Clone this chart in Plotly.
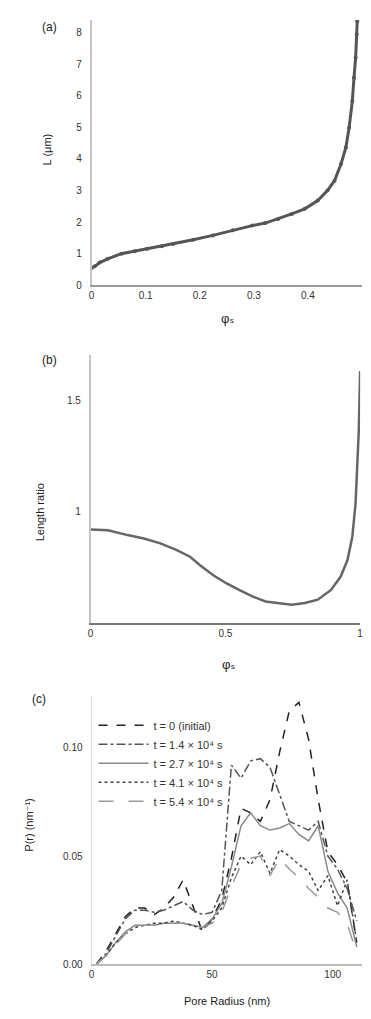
import plotly.graph_objects as go

# ---- panel (a): length vs solid fraction ----
phi_a = [0.0, 0.006, 0.015, 0.03, 0.055, 0.08, 0.103, 0.13, 0.151, 0.188, 0.224,
         0.261, 0.297, 0.321, 0.345, 0.37, 0.394, 0.418, 0.436, 0.449, 0.461,
         0.470, 0.476, 0.482, 0.485, 0.488, 0.490, 0.491]
L_a = [0.55, 0.6, 0.72, 0.84, 1.0, 1.08, 1.16, 1.24, 1.31, 1.44, 1.58,
       1.74, 1.89, 1.97, 2.10, 2.26, 2.42, 2.68, 3.0, 3.31, 3.84,
       4.36, 4.99, 5.84, 6.57, 7.2, 7.94, 8.36]

# ---- panel (b): ratio vs solid fraction ----
phi_b = [0.0, 0.065, 0.137, 0.198, 0.259, 0.32, 0.369, 0.405, 0.454, 0.503,
         0.551, 0.6, 0.649, 0.697, 0.746, 0.795, 0.843, 0.892, 0.928, 0.953,
         0.971, 0.983, 0.995, 1.0]
R_b = [0.921, 0.918, 0.896, 0.881, 0.859, 0.829, 0.799, 0.762, 0.717, 0.680,
       0.650, 0.621, 0.598, 0.591, 0.583, 0.591, 0.606, 0.650, 0.710, 0.784,
       0.888, 1.037, 1.365, 1.633]

# ---- panel (c): pore radius distributions ----
radius = [2, 6, 10, 14, 18, 22, 26, 30, 34, 38, 42, 46, 50, 54, 58, 62, 66, 70,
          74, 78, 82, 86, 90, 94, 98, 102, 106, 110]
p1 = [0.000, 0.006, 0.014, 0.022, 0.026, 0.026, 0.023, 0.026, 0.031, 0.039, 0.027,
      0.015, 0.021, 0.030, 0.049, 0.072, 0.070, 0.066, 0.076, 0.098, 0.117, 0.121,
      0.104, 0.076, 0.052, 0.046, 0.038, 0.010]
p2 = [0.000, 0.005, 0.013, 0.021, 0.025, 0.025, 0.024, 0.025, 0.027, 0.029, 0.025,
      0.023, 0.024, 0.034, 0.092, 0.086, 0.094, 0.095, 0.091, 0.079, 0.066, 0.064,
      0.062, 0.066, 0.050, 0.044, 0.035, 0.020]
p3 = [0.000, 0.004, 0.010, 0.015, 0.018, 0.018, 0.018, 0.019, 0.019, 0.019, 0.018,
      0.017, 0.021, 0.028, 0.045, 0.064, 0.070, 0.064, 0.062, 0.063, 0.065, 0.060,
      0.057, 0.064, 0.043, 0.033, 0.026, 0.008]
p4 = [0.000, 0.004, 0.010, 0.014, 0.017, 0.018, 0.019, 0.019, 0.020, 0.019, 0.018,
      0.016, 0.020, 0.026, 0.040, 0.050, 0.046, 0.052, 0.042, 0.053, 0.050, 0.046,
      0.043, 0.034, 0.041, 0.027, 0.039, 0.010]
p5 = [0.000, 0.004, 0.009, 0.014, 0.017, 0.018, 0.018, 0.019, 0.019, 0.019, 0.018,
      0.017, 0.019, 0.024, 0.036, 0.046, 0.049, 0.050, 0.041, 0.049, 0.044, 0.040,
      0.035, 0.031, 0.026, 0.024, 0.019, 0.005]
series_c = [p1, p2, p3, p4, p5]
names_c = ["t = 0 (initial)", "t = 1.4 × 10⁴ s", "t = 2.7 × 10⁴ s",
           "t = 4.1 × 10⁴ s", "t = 5.4 × 10⁴ s"]
colors_c = ["#222222", "#555555", "#8a8a8a", "#444444", "#9a9a9a"]
dashes_c = ["dash", "dashdot", "solid", "dot", "longdash"]

W, H = 371, 1019
FONT = "Liberation Sans, DejaVu Sans, Arial, sans-serif"
TXT = "#333333"

fig = go.Figure()

fig.add_trace(go.Scatter(x=phi_a, y=L_a, mode="lines+markers",
                         line=dict(color="#555555", width=3),
                         marker=dict(color="#555555", size=4),
                         xaxis="x", yaxis="y", showlegend=False))

fig.add_trace(go.Scatter(x=phi_b, y=R_b, mode="lines",
                         line=dict(color="#666666", width=2.5),
                         xaxis="x2", yaxis="y2", showlegend=False))

for vals, nm, col, ds in zip(series_c, names_c, colors_c, dashes_c):
    fig.add_trace(go.Scatter(x=radius, y=vals, mode="lines", name=nm,
                             line=dict(color=col, width=1.5, dash=ds),
                             xaxis="x3", yaxis="y3"))


def px_x(p):
    return p / W


def px_y(p):
    return 1 - p / H


xdom = [px_x(90), px_x(365)]
axis_common = dict(showgrid=False, zeroline=False, ticks="", showline=True,
                   tickfont=dict(size=10, color=TXT, family=FONT))

fig.update_layout(
    width=W, height=H,
    margin=dict(l=0, r=0, t=0, b=0),
    paper_bgcolor="white", plot_bgcolor="white",
    font=dict(family=FONT, color=TXT, size=10),
    xaxis=dict(domain=xdom, range=[0, 0.5], anchor="y",
               tickvals=[0, 0.1, 0.2, 0.3, 0.4], ticktext=["0", "0.1", "0.2", "0.3", "0.4"],
               linecolor="#999999", linewidth=2, **axis_common),
    yaxis=dict(domain=[px_y(287), px_y(20)], range=[0, 8.4], anchor="x",
               dtick=1, linecolor="#c4c4c4", linewidth=1.5, ticklabelstandoff=6,
               **axis_common),
    xaxis2=dict(domain=[px_x(89), px_x(363)], range=[0, 1], anchor="y2",
                tickvals=[0, 0.5, 1], linecolor="#777777", linewidth=2, **axis_common),
    yaxis2=dict(domain=[px_y(627), px_y(357)], range=[0.5, 1.705], anchor="x2",
                tickvals=[1, 1.5], linecolor="#c4c4c4", linewidth=1.5,
                ticklabelstandoff=6, **axis_common),
    xaxis3=dict(domain=xdom, range=[0, 112.2], anchor="y3",
                tickvals=[0, 50, 100], linecolor="#bbbbbb", linewidth=1.5, **axis_common),
    yaxis3=dict(domain=[px_y(970), px_y(700)], range=[0, 0.124], anchor="x3",
                tickvals=[0, 0.05, 0.10], tickformat=".2f", linecolor="#dddddd",
                linewidth=1, ticklabelstandoff=6, **axis_common),
    legend=dict(x=px_x(92), y=px_y(715), xanchor="left", yanchor="top",
                bgcolor="rgba(0,0,0,0)", font=dict(size=11, color=TXT, family=FONT),
                itemwidth=50, tracegroupgap=0),
)

annots = [
    dict(text="(a)", x=47, y=27, size=12),
    dict(text="(b)", x=47, y=362, size=12),
    dict(text="(c)", x=37, y=703, size=12),
    dict(text="φₛ", x=228, y=320, size=13),
    dict(text="φₛ", x=229, y=668, size=13),
    dict(text="Pore Radius (nm)", x=228, y=1007, size=11),
    dict(text="L (μm)", x=45, y=150, size=11, angle=-90),
    dict(text="Length ratio", x=38, y=515, size=11, angle=-90),
    dict(text="P(r) (nm⁻¹)", x=27, y=830, size=11, angle=-90),
]
for a in annots:
    fig.add_annotation(text=a["text"], x=px_x(a["x"]), y=px_y(a["y"]),
                       xref="paper", yref="paper", showarrow=False,
                       xanchor="center", yanchor="middle",
                       textangle=a.get("angle", 0),
                       font=dict(size=a["size"], color="#222222", family=FONT))

fig.write_html("out.html")
